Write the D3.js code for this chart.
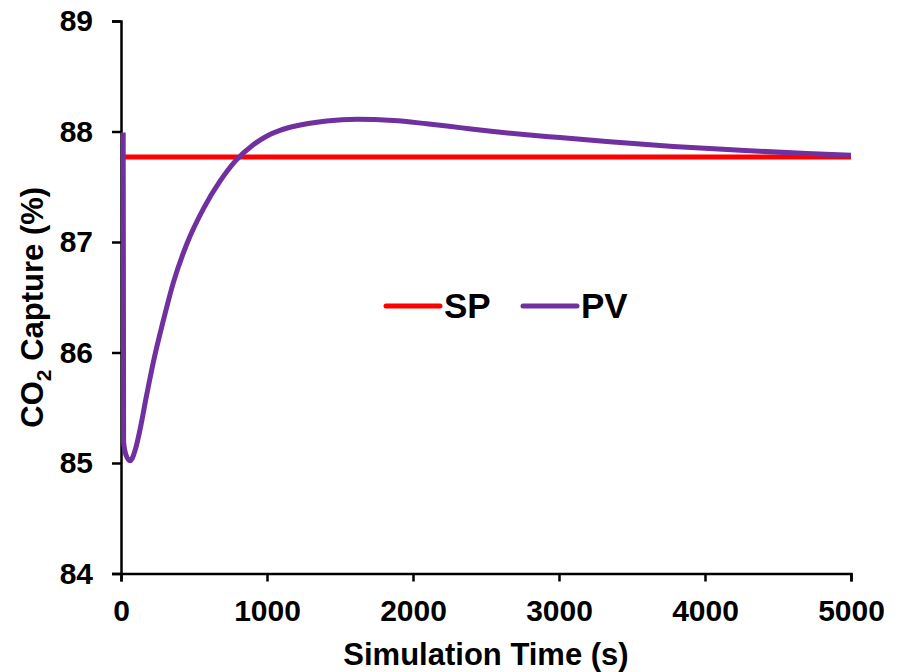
<!DOCTYPE html>
<html>
<head>
<meta charset="utf-8">
<script src="https://cdn.jsdelivr.net/npm/d3@7"></script>
<style>
  html, body { margin: 0; padding: 0; background: #fff; }
  svg text { font-family: "Liberation Sans", Arial, sans-serif; font-weight: bold; fill: #000; }
</style>
</head>
<body>
<svg id="chart" width="901" height="672"></svg>
<script>
// Simulation time (s) and CO2 capture (%) of the controlled variable
const pvTime  = [15, 18, 35, 62, 100, 130, 175, 221, 290, 358, 450, 564, 678, 781, 906, 1000, 1089, 1180, 1409, 1614, 1865, 2094, 2322, 2550, 2779, 3007, 3326, 3783, 4240, 4697, 5000];
const pvValue = [87.99, 85.19, 85.07, 85.02, 85.13, 85.30, 85.61, 85.91, 86.29, 86.63, 86.98, 87.30, 87.55, 87.73, 87.88, 87.96, 88.01, 88.045, 88.095, 88.11, 88.10, 88.07, 88.035, 88.0, 87.97, 87.945, 87.91, 87.865, 87.83, 87.80, 87.785];

// Set point
const spTime  = [0, 5000];
const spValue = [87.77, 87.77];

const xTicks = [0, 1000, 2000, 3000, 4000, 5000];
const yTicks = [84, 85, 86, 87, 88, 89];

const seriesNames = ["SP", "PV"];
const seriesColors = ["#ff0000", "#7030a0"];

const svg = d3.select("#chart");

const x = d3.scaleLinear().domain([0, 5000]).range([121, 851]);
const y = d3.scaleLinear().domain([84, 89]).range([573.5, 21]);

// Axes
const xAxis = svg.append("g")
  .attr("transform", `translate(0,${y(84)})`)
  .call(d3.axisBottom(x).tickValues(xTicks).tickSize(8).tickPadding(18).tickFormat(d3.format("d")));
const yAxis = svg.append("g")
  .attr("transform", `translate(${x(0)},0)`)
  .call(d3.axisLeft(y).tickValues(yTicks).tickSize(9).tickPadding(19).tickFormat(d3.format("d")));

[xAxis, yAxis].forEach(g => {
  g.selectAll("path.domain").attr("stroke", "#000").attr("stroke-width", 2.5);
  g.selectAll(".tick line").attr("stroke", "#000").attr("stroke-width", 2.5);
  g.selectAll(".tick text").style("font-size", "30px").attr("font-family", null);
  g.attr("font-family", null).attr("font-size", null);
});

// Lines
const line = d3.line().x(d => x(d[0])).y(d => y(d[1])).curve(d3.curveMonotoneX);

svg.append("path")
  .datum(d3.zip(spTime, spValue))
  .attr("fill", "none")
  .attr("stroke", seriesColors[0])
  .attr("stroke-width", 5)
  .attr("d", line);

svg.append("path")
  .datum(d3.zip(pvTime, pvValue))
  .attr("fill", "none")
  .attr("stroke", seriesColors[1])
  .attr("stroke-width", 5)
  .attr("stroke-linejoin", "round")
  .attr("d", line);

// Axis titles
svg.append("text")
  .attr("x", (x(0) + x(5000)) / 2)
  .attr("y", 665)
  .attr("text-anchor", "middle")
  .style("font-size", "31px")
  .text("Simulation Time (s)");

const yTitle = svg.append("text")
  .attr("transform", `translate(43,${(y(84) + y(89)) / 2 + 10}) rotate(-90)`)
  .attr("text-anchor", "middle")
  .style("font-size", "31px");
yTitle.append("tspan").text("CO");
yTitle.append("tspan").attr("dy", 8).style("font-size", "21px").text("2");
yTitle.append("tspan").attr("dy", -8).text(" Capture (%)");

// Legend
const legendX = [386, 523];
const legend = svg.append("g");
seriesNames.forEach((name, i) => {
  legend.append("line")
    .attr("x1", legendX[i]).attr("x2", legendX[i] + 54)
    .attr("y1", 306).attr("y2", 306)
    .attr("stroke", seriesColors[i])
    .attr("stroke-width", 5)
    .attr("stroke-linecap", "round");
  legend.append("text")
    .attr("x", legendX[i] + 58)
    .attr("y", 318)
    .style("font-size", "35px")
    .text(name);
});
</script>
</body>
</html>
